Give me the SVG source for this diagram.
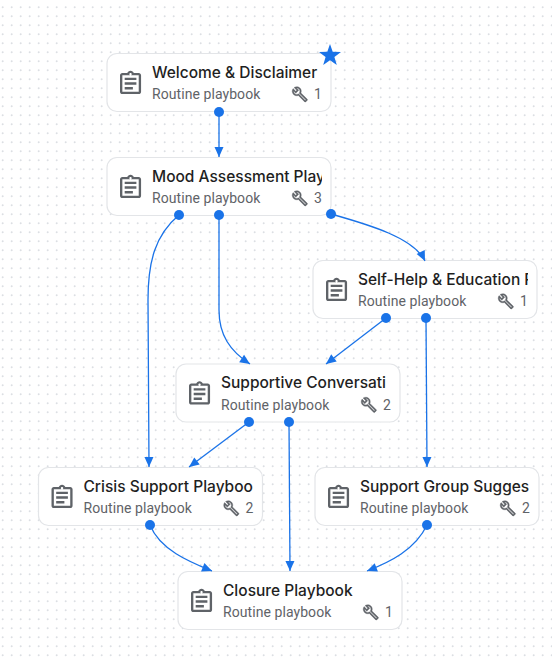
<svg xmlns="http://www.w3.org/2000/svg" width="552" height="662" viewBox="0 0 552 662">
<style>
.card{fill:#fff;stroke:#e3e5e8;stroke-width:1.2}
.title{font:500 15.5px Inter,"Noto Sans",sans-serif;fill:#1f1f1f}
.sub{font:400 14px Roboto,"Liberation Sans",sans-serif;letter-spacing:.07px;fill:#5f6368}
.ico{fill:#5f6368}
.wr{fill:#5f6368;stroke:#5f6368;stroke-width:.5}
.edge{fill:none;stroke:#1a73e8;stroke-width:1.3;marker-start:url(#dot);marker-end:url(#arr)}
</style>
<defs>
<pattern id="grid" width="9" height="9" patternUnits="userSpaceOnUse"><circle cx="2.7" cy="7.3" r="1" fill="#dcdfe3"/></pattern>
<marker id="dot" markerUnits="userSpaceOnUse" markerWidth="12" markerHeight="12" refX="6" refY="6"><circle cx="6" cy="6" r="5" fill="#1a73e8"/></marker>
<marker id="arr" markerUnits="userSpaceOnUse" markerWidth="12" markerHeight="12" refX="11" refY="6" orient="auto"><path d="M1 1.500 L11 6 L1 10.500Z" fill="#1a73e8"/></marker>
<clipPath id="tc"><rect x="0" y="0" width="215" height="58"/></clipPath>
<path id="clip" transform="scale(1.17)" d="M19 3h-4.18C14.4 1.84 13.3 1 12 1c-1.3 0-2.4.84-2.82 2H5c-1.1 0-2 .9-2 2v14c0 1.1.9 2 2 2h14c1.1 0 2-.9 2-2V5c0-1.1-.9-2-2-2zm-7 0c.55 0 1 .45 1 1s-.45 1-1 1-1-.45-1-1 .45-1 1-1zM19 19H5V5h14v14zM7 15h7v2H7zm0-4h10v2H7zm0-4h10v2H7z"/>
<path id="wr" transform="scale(.7)" d="M22.61 18.99l-9.08-9.08c.93-2.34.45-5.1-1.44-7C9.79.61 6.21.4 3.66 2.26L7.5 6.11 6.09 7.52 2.25 3.69C.39 6.23.6 9.82 2.9 12.11c1.86 1.86 4.57 2.35 6.89 1.48l9.11 9.11c.39.39 1.02.39 1.41 0l2.3-2.3c.4-.38.4-1.01 0-1.41zm-3 1.6l-9.46-9.46c-.61.45-1.29.72-2 .82-1.36.2-2.79-.21-3.83-1.25C3.37 9.76 2.93 8.5 3 7.26l3.09 3.09 4.24-4.24-3.09-3.09c1.24-.07 2.49.37 3.44 1.31 1.08 1.08 1.49 2.57 1.24 3.96-.12.71-.42 1.37-.88 1.96l9.45 9.45-.88.88z"/>
</defs>
<rect width="552" height="662" fill="#fff"/>
<rect width="552" height="662" fill="url(#grid)"/>
<g id="n1" transform="translate(107 53.5)"><rect class="card" width="224" height="58" rx="10"/><use href="#clip" class="ico" x="9.5" y="16"/><text class="title" x="45" y="24" clip-path="url(#tc)">Welcome &amp; Disclaimer</text><text class="sub" x="45" y="45.500">Routine playbook</text><use href="#wr" class="wr" x="184.500" y="32.500"/><text class="sub" x="207" y="45.500">1</text></g>
<g id="n2" transform="translate(107 157.5)"><rect class="card" width="224" height="58" rx="10"/><use href="#clip" class="ico" x="9.5" y="16"/><text class="title" x="45" y="24" clip-path="url(#tc)">Mood Assessment Play</text><text class="sub" x="45" y="45.500">Routine playbook</text><use href="#wr" class="wr" x="184.500" y="32.500"/><text class="sub" x="207" y="45.500">3</text></g>
<g id="n3" transform="translate(313 260.5)"><rect class="card" width="224" height="58" rx="10"/><use href="#clip" class="ico" x="9.5" y="16"/><text class="title" x="45" y="24" clip-path="url(#tc)">Self-Help &amp; Education P</text><text class="sub" x="45" y="45.500">Routine playbook</text><use href="#wr" class="wr" x="184.500" y="32.500"/><text class="sub" x="207" y="45.500">1</text></g>
<g id="n4" transform="translate(176 364)"><rect class="card" width="224" height="58" rx="10"/><use href="#clip" class="ico" x="9.5" y="16"/><text class="title" x="45" y="24" clip-path="url(#tc)">Supportive Conversati</text><text class="sub" x="45" y="45.500">Routine playbook</text><use href="#wr" class="wr" x="184.500" y="32.500"/><text class="sub" x="207" y="45.500">2</text></g>
<g id="n5" transform="translate(38.500 467.500)"><rect class="card" width="224" height="58" rx="10"/><use href="#clip" class="ico" x="9.500" y="16"/><text class="title" x="45" y="24" clip-path="url(#tc)">Crisis Support Playboo</text><text class="sub" x="45" y="45.500">Routine playbook</text><use href="#wr" class="wr" x="184.500" y="32.500"/><text class="sub" x="207" y="45.500">2</text></g>
<g id="n6" transform="translate(315 467.500)"><rect class="card" width="224" height="58" rx="10"/><use href="#clip" class="ico" x="9.5" y="16"/><text class="title" x="45" y="24" clip-path="url(#tc)">Support Group Sugges</text><text class="sub" x="45" y="45.500">Routine playbook</text><use href="#wr" class="wr" x="184.500" y="32.500"/><text class="sub" x="207" y="45.500">2</text></g>
<g id="n7" transform="translate(178 571.500)"><rect class="card" width="224" height="58" rx="10"/><use href="#clip" class="ico" x="9.5" y="16"/><text class="title" x="45" y="24" clip-path="url(#tc)">Closure Playbook</text><text class="sub" x="45" y="45.500">Routine playbook</text><use href="#wr" class="wr" x="184.500" y="32.500"/><text class="sub" x="207" y="45.500">1</text></g>
<g id="connectors">
<path class="edge" d="M219 112 L219 157"/>
<path class="edge" d="M179 215 C155 235 148 262 148 300 L149 467"/>
<path class="edge" d="M219 215 L219 310 C219 335 230 351 250 364"/>
<path class="edge" d="M331 214 C370 225 414 238 425 261"/>
<path class="edge" d="M386 318 L326 364"/>
<path class="edge" d="M426 318 L427 467"/>
<path class="edge" d="M249 422 L189 467"/>
<path class="edge" d="M289 422 L290 571"/>
<path class="edge" d="M150 525 C160 550 190 562 212 571"/>
<path class="edge" d="M427 525 C415 550 390 562 367 571"/>
</g>
<polygon id="star" fill="#1a73e8" points="330,44 332.700,51.800 341,52 334.400,57 336.800,65 330,60.300 323.200,65 325.600,57 319,52 327.300,51.800"/>
</svg>
